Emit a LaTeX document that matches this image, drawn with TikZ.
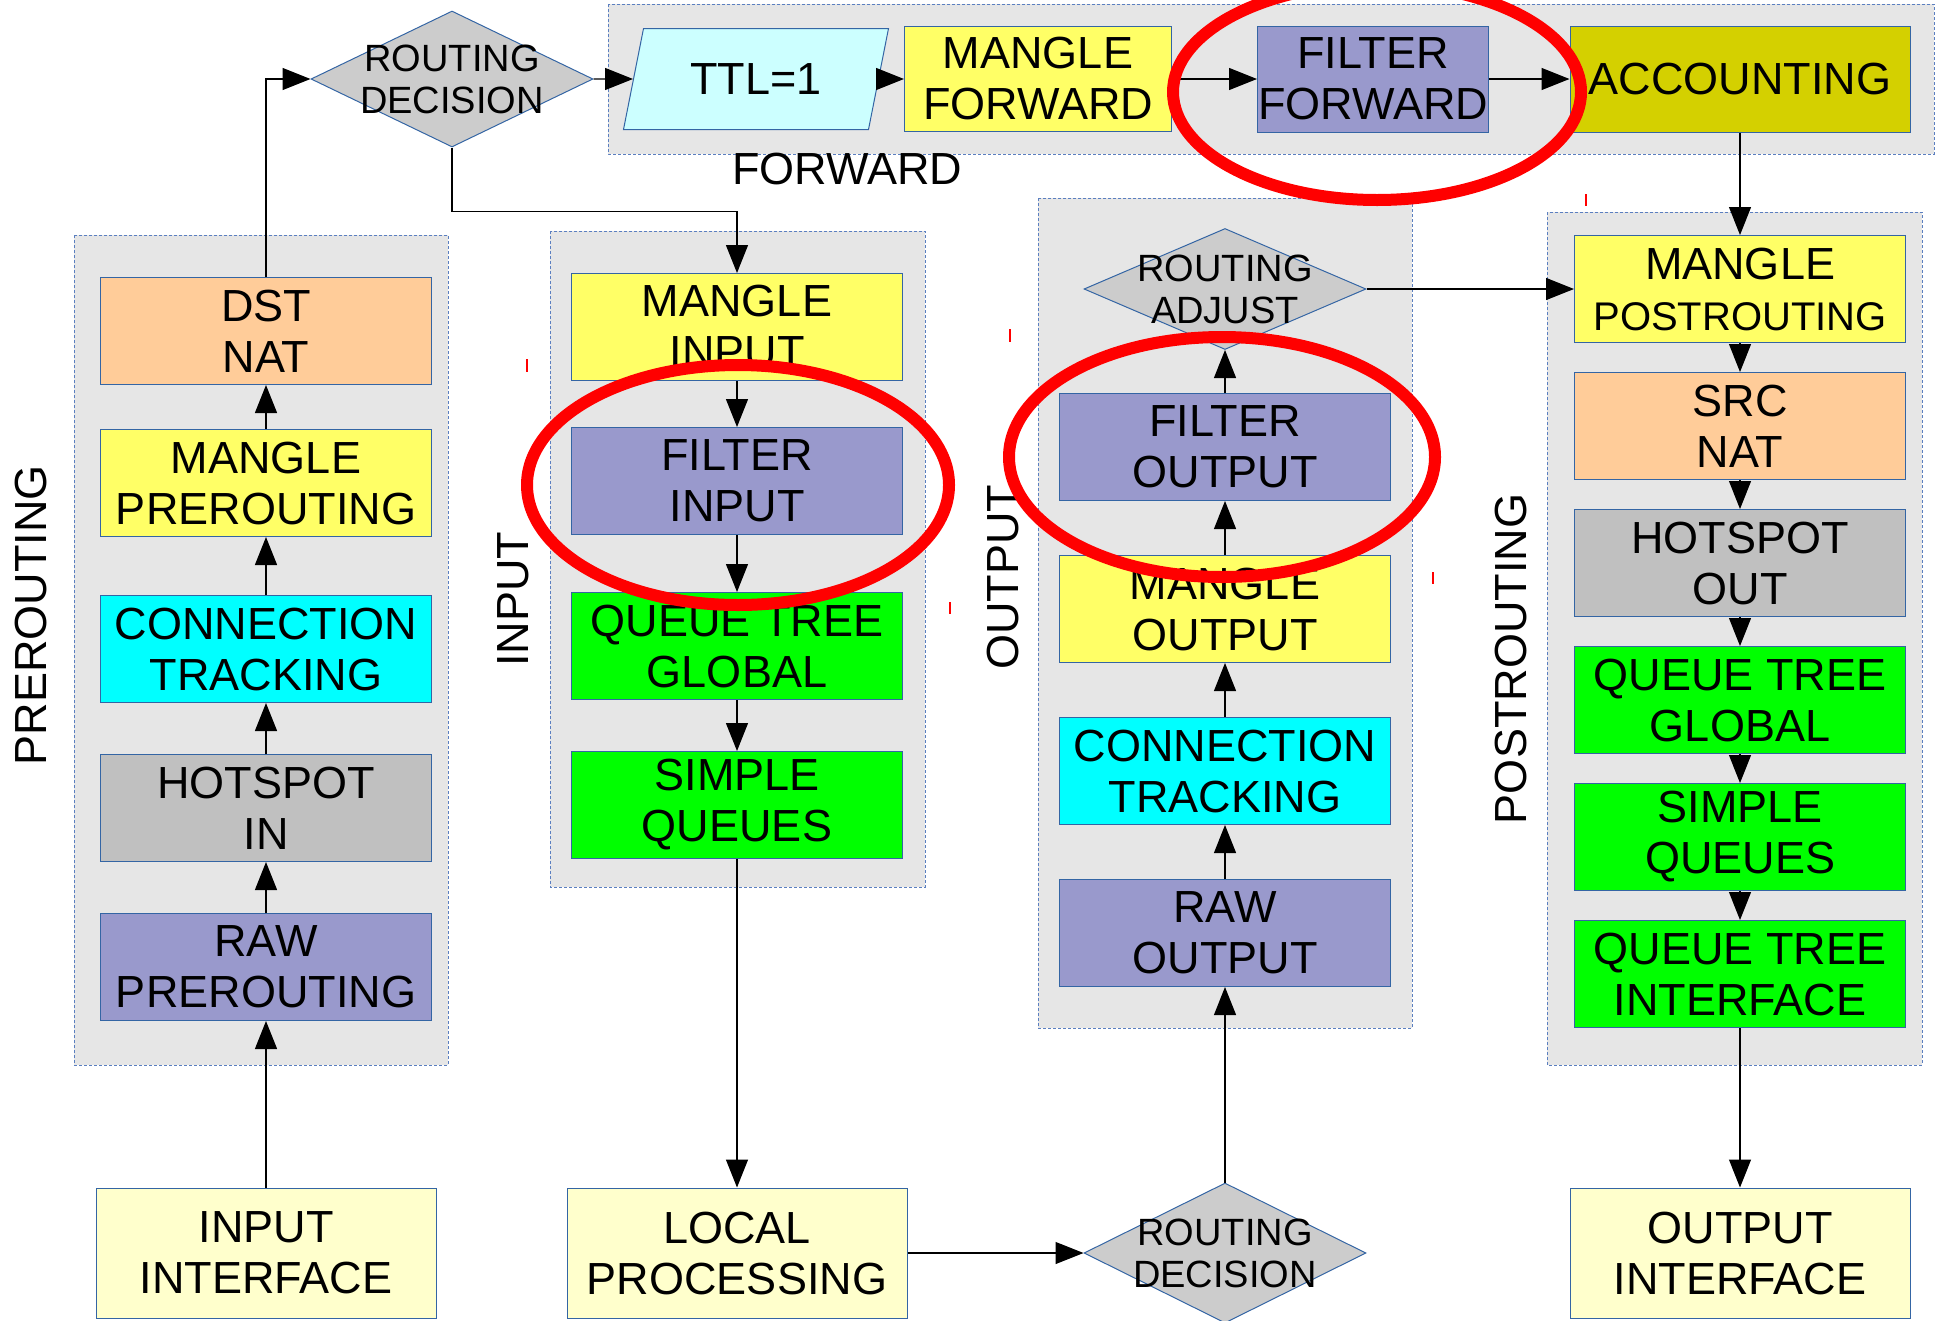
\documentclass[tikz,border=0pt]{standalone}
\usepackage{fontspec}
\setmainfont{Liberation Sans}
\usetikzlibrary{arrows.meta, shapes.geometric}

\definecolor{boxblue}{HTML}{3465A4}
\definecolor{grpblue}{HTML}{5B7FC0}
\definecolor{grpgray}{HTML}{E6E6E6}
\definecolor{yel}{HTML}{FFFF66}
\definecolor{peach}{HTML}{FFCC99}
\definecolor{cyn}{HTML}{00FFFF}
\definecolor{hsgray}{HTML}{C0C0C0}
\definecolor{lav}{HTML}{9999CC}
\definecolor{grn}{HTML}{00FF00}
\definecolor{ifyel}{HTML}{FFFFCC}
\definecolor{diagray}{HTML}{CCCCCC}
\definecolor{ttlcyan}{HTML}{CCFFFF}
\definecolor{accyel}{HTML}{D4D000}

\newcommand\boxfnt{\fontsize{45}{51}\selectfont}
\newcommand\diafnt{\fontsize{38}{42}\selectfont}

\begin{document}
\begin{tikzpicture}[x=1pt,y=-1pt,>={Triangle[length=28pt,width=22pt]},line width=1.2pt,node distance=159pt,
  box/.style={draw=boxblue,line width=1pt,minimum width=331pt,minimum height=107pt,inner sep=0pt,align=center,font=\boxfnt},
  iface/.style={box,fill=ifyel,minimum width=340pt,minimum height=130pt},
  dia/.style={diamond,draw=boxblue,line width=1pt,fill=diagray,minimum width=282pt,minimum height=136pt,inner sep=0pt},
  dlbl/.style={font=\diafnt,align=center,inner sep=0pt},
  grp/.style={draw=grpblue,line width=1pt,dash pattern=on 3pt off 2pt,fill=grpgray},
  lbl/.style={font=\boxfnt,inner sep=0pt},
  ring/.style={draw=red,line width=12pt}]
\useasboundingbox (0,0) rectangle (1937,1320);

% the chain groups
\draw[grp] (608,4) rectangle (1934,154);
\draw[grp] (74,235) rectangle (448,1065);
\draw[grp] (550,231) rectangle (925,887);
\draw[grp] (1038,198) rectangle (1412,1028);
\draw[grp] (1547,212) rectangle (1922,1065);

\node[lbl] (fwdl) at (847,169) {FORWARD};
\node[lbl,rotate=90] (prel) at (31,615) {PREROUTING};
\node[lbl,rotate=90] (inpl) at (513,599) {INPUT};
\node[lbl,rotate=90] (outl) at (1003,577) {OUTPUT};
\node[lbl,rotate=90] (postl) at (1511,659) {POSTROUTING};

% forward row
\node[dia,label={[dlbl]center:ROUTING\\DECISION}] (rd1) at (452,79) {};
\node[trapezium,trapezium left angle=62,trapezium right angle=118,trapezium stretches body,
  draw=boxblue,line width=1pt,fill=ttlcyan,minimum width=265pt,minimum height=101pt,font=\boxfnt] (ttl) at (756,79) {TTL=1};
\node[box,fill=yel,minimum width=267pt,minimum height=105pt] (mfwd) at (1038,79) {MANGLE\\FORWARD};
\node[box,fill=lav,minimum width=231pt,minimum height=106pt] (ffwd) at (1373,79) {FILTER\\FORWARD};
\node[box,fill=accyel,minimum width=340pt,minimum height=106pt] (acc) at (1740,79) {ACCOUNTING};

% prerouting
\node[box,fill=lav] (rpre) at (266,967) {RAW\\PREROUTING};
\node[box,fill=hsgray] (hsin) [above of=rpre] {HOTSPOT\\IN};
\node[box,fill=cyn] (ctpre) [above of=hsin] {CONNECTION\\TRACKING};
\node[box,fill=yel,node distance=166pt] (mpre) [above of=ctpre] {MANGLE\\PREROUTING};
\node[box,fill=peach,node distance=152pt] (dnat) [above of=mpre] {DST\\NAT};
\node[iface] (iif) at (266,1253) {INPUT\\INTERFACE};

% input
\node[box,fill=yel] (minp) at (737,327) {MANGLE\\INPUT};
\node[box,fill=lav,node distance=154pt] (finp) [below of=minp] {FILTER\\INPUT};
\node[box,fill=grn,node distance=165pt] (qtgi) [below of=finp] {QUEUE TREE\\GLOBAL};
\node[box,fill=grn] (sqi) [below of=qtgi] {SIMPLE\\QUEUES};
\node[iface] (lproc) at (737,1253) {LOCAL\\PROCESSING};

% output
\node[box,fill=lav] (rout) at (1225,933) {RAW\\OUTPUT};
\node[box,fill=cyn,node distance=162pt] (ctout) [above of=rout] {CONNECTION\\TRACKING};
\node[box,fill=yel,node distance=162pt] (mout) [above of=ctout] {MANGLE\\OUTPUT};
\node[box,fill=lav,node distance=162pt] (fout) [above of=mout] {FILTER\\OUTPUT};
\node[dia,minimum height=121pt,node distance=158pt,label={[dlbl]center:ROUTING\\ADJUST}] (radj) [above of=fout] {};
\node[dia,minimum height=140pt,label={[dlbl]center:ROUTING\\DECISION}] (rd2) at (1225,1253) {};

% postrouting
\node[box,fill=yel] (mpost) at (1740,289) {MANGLE\\{\fontsize{40}{51}\selectfont POSTROUTING}};
\node[box,fill=peach,node distance=137pt] (snat) [below of=mpost] {SRC\\NAT};
\node[box,fill=hsgray,node distance=137pt] (hsout) [below of=snat] {HOTSPOT\\OUT};
\node[box,fill=grn,node distance=137pt] (qtgp) [below of=hsout] {QUEUE TREE\\GLOBAL};
\node[box,fill=grn,node distance=137pt] (sqp) [below of=qtgp] {SIMPLE\\QUEUES};
\node[box,fill=grn,node distance=137pt] (qtif) [below of=sqp] {QUEUE TREE\\INTERFACE};
\node[iface] (oif) at (1740,1253) {OUTPUT\\INTERFACE};

% define the links
\path[->] (iif) edge (rpre)
   (rpre) edge (hsin)
   (hsin) edge (ctpre)
   (ctpre) edge (mpre)
   (mpre) edge (dnat)
   (rd1) edge (ttl)
   (ttl) edge (mfwd)
   (mfwd) edge (ffwd)
   (ffwd) edge (acc)
   (acc) edge (mpost)
   (minp) edge (finp)
   (finp) edge (qtgi)
   (qtgi) edge (sqi)
   (sqi) edge (lproc)
   (lproc) edge (rd2)
   (rd2) edge (rout)
   (rout) edge (ctout)
   (ctout) edge (mout)
   (mout) edge (fout)
   (fout) edge (radj)
   (radj) edge (mpost)
   (mpost) edge (snat)
   (snat) edge (hsout)
   (hsout) edge (qtgp)
   (qtgp) edge (sqp)
   (sqp) edge (qtif)
   (qtif) edge (oif);
\draw[->] (dnat) |- (rd1);
\draw[->] (rd1.south) -- ++(0,64) -| (minp.north);

% red marks
\draw[ring] (1377,92) ellipse [x radius=204pt,y radius=108pt];
\draw[ring] (738,485) ellipse [x radius=211pt,y radius=120pt];
\draw[ring] (1222,457) ellipse [x radius=213pt,y radius=120pt];
\draw[red,line width=2pt] (527,359) -- (527,372) (1010,329) -- (1010,342)
  (950,602) -- (950,614) (1433,572) -- (1433,584) (1586,194) -- (1586,206);
\end{tikzpicture}
\end{document}
